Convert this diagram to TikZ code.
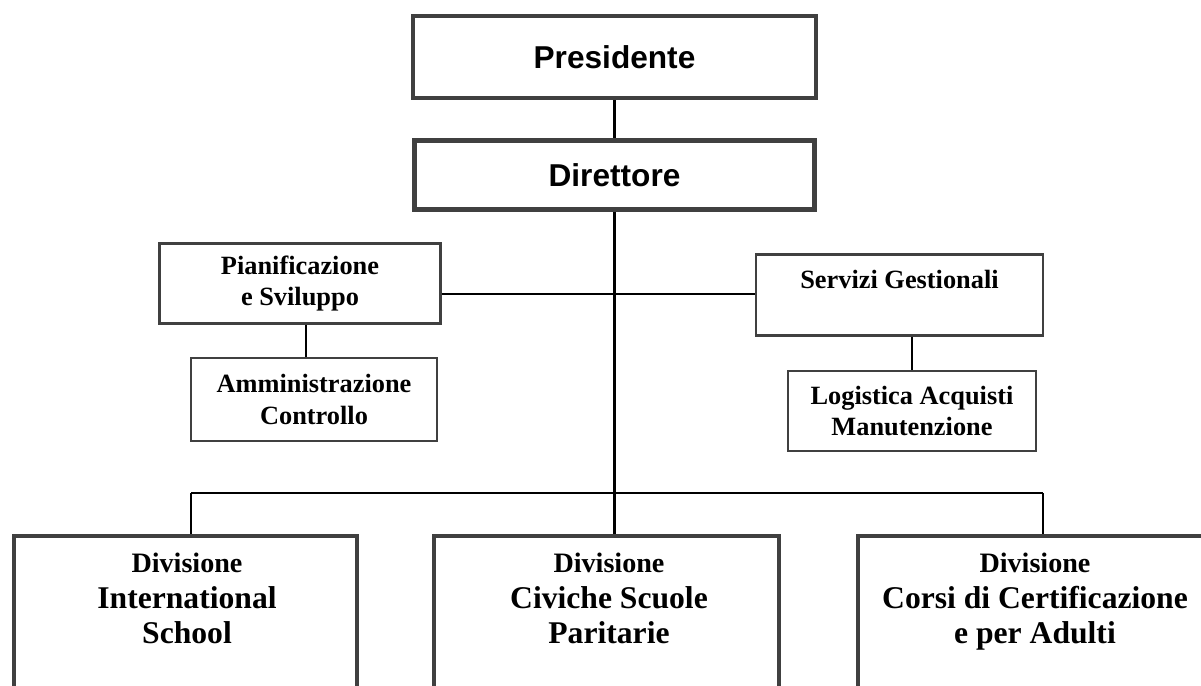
\documentclass[tikz,border=0pt]{standalone}
\usepackage{fontspec}
\setmainfont{Liberation Serif}
\newfontfamily\arialfont{Liberation Sans}
\tikzset{
    topbox/.style={draw=black!75, line width=2.6pt, inner sep=0pt,
        font=\arialfont\bfseries\fontsize{18}{21}\selectfont},
    midbox/.style={draw=black!75, line width=1.3pt, inner sep=0pt, align=center,
        font=\bfseries\fontsize{15}{18}\selectfont},
    divbox/.style={draw=black!75, line width=2.2pt, inner sep=0pt, anchor=north,
        minimum height=4cm},
    divtext/.style={align=center, anchor=north, inner sep=0pt,
        font=\bfseries\fontsize{18}{20}\selectfont},
    linea/.style={line width=1.2pt}
}
\begin{document}
\begin{tikzpicture}[x=0.02cm, y=-0.02cm]
        \useasboundingbox (0,0) rectangle (1201,686);
        \clip (0,0) rectangle (1201,686);

        %%%%%%%%%% Nodi %%%%%%%%%%
        \node[topbox, minimum width=8.06cm, minimum height=1.64cm] (pres) at (614.5,57) {Presidente};
        \node[topbox, minimum width=8.0cm, minimum height=1.38cm] (dir) at (614.5,175) {Direttore};

        \node[midbox, minimum width=5.62cm, minimum height=1.6cm] (plan) at (300,283.5) {Pianificazione\\e Sviluppo};
        \node[midbox, minimum width=5.74cm, minimum height=1.62cm] (serv) at (899.5,295) {Servizi Gestionali\\\mbox{}};
        \node[midbox, minimum width=4.92cm, minimum height=1.66cm] (amm) at (314,399.5) {Amministrazione\\Controllo};
        \node[midbox, minimum width=4.96cm, minimum height=1.6cm] (log) at (912,411) {Logistica Acquisti\\Manutenzione};

        \node[divbox, minimum width=6.86cm] (isch) at (185.5,534) {};
        \node[divbox, minimum width=6.9cm] (civ) at (606.5,534) {};
        \node[divbox, minimum width=6.92cm] (corsi) at (1031,534) {};

        \node[divtext] (ischtxt) at (187,553) {{\fontsize{16}{20}\selectfont Divisione}\\International\\School};
        \node[divtext] (civtxt) at (609,553) {{\fontsize{16}{20}\selectfont Divisione}\\Civiche Scuole\\Paritarie};
        \node[divtext] (corsitxt) at (1035,553) {{\fontsize{16}{20}\selectfont Divisione}\\Corsi di Certificazione\\e per Adulti};

        \coordinate (busL) at (191,493);
        \coordinate (busR) at (1043,493);
        \coordinate (busC) at (614.5,493);

        %%%%%%%%% Linee %%%%%%%%%
        \draw[linea] (pres) -- (dir);
        \draw[linea] (dir.south) -- (busC |- civ.north);
        \draw[linea] (busL) -- (busR);
        \draw[linea] (busL) -- (busL |- isch.north);
        \draw[linea] (busR) -- (busR |- corsi.north);
        \draw[linea] (plan.east |- 0,294) -- (serv.west |- 0,294);
        \draw[linea] ([xshift=0.12cm]plan.south) -- ([xshift=0.12cm]plan.south |- amm.north);
        \draw[linea] (log.north |- serv.south) -- (log.north);
    \end{tikzpicture}
\end{document}
